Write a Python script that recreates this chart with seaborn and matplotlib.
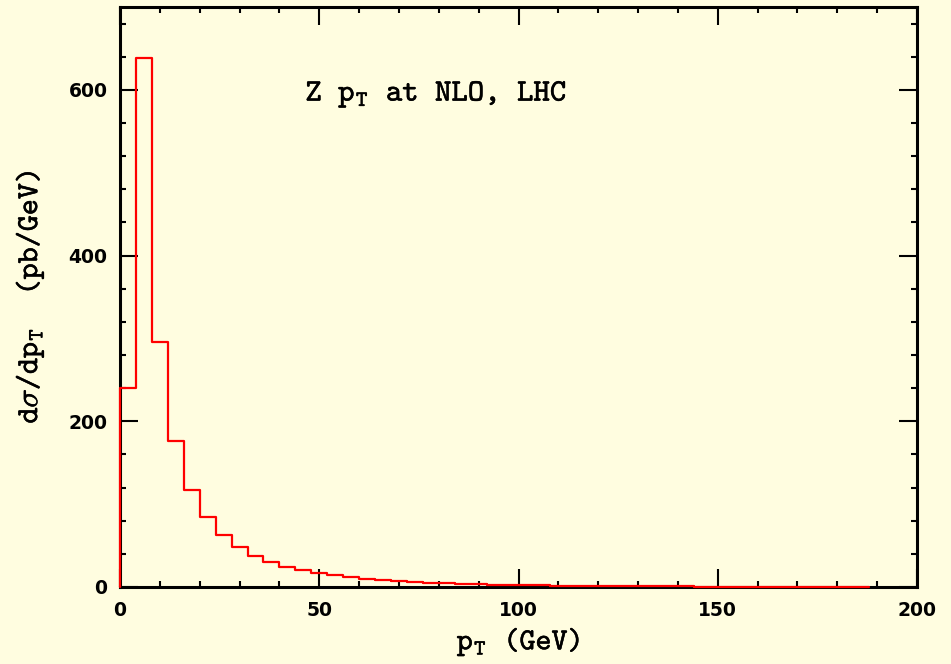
import numpy as np
import pandas as pd
import matplotlib
matplotlib.use("Agg")
import matplotlib.pyplot as plt
import matplotlib.patheffects as pe
import seaborn as sns
from matplotlib.ticker import MultipleLocator

# ---- data ----
bin_width = 4
bin_low = list(range(0, 188, 4))  # lower edges of 4 GeV bins, 0..184
dsigma = [240, 638, 296, 176, 117, 84.5, 63, 48, 38, 30.5,
          24.6, 20.1, 16.9, 14.1, 11.7, 9.7, 8.1, 6.8, 6.0, 5.0,
          4.3, 3.7, 3.2, 2.8, 2.4, 2.1, 1.85, 1.6, 1.4, 1.25,
          1.1, 0.97, 0.86, 0.77, 0.69, 0.62, 0.55, 0.5, 0.45, 0.41,
          0.37, 0.33, 0.3, 0.27, 0.25, 0.23, 0.21]
x_ticks = [0, 50, 100, 150, 200]
y_ticks = [0, 200, 400, 600]
title_text = r"Z p$_\mathrm{T}$ at NLO, LHC"
xlabel_text = r"p$_\mathrm{T}$ (GeV)"
ylabel_text = r"d$\sigma$/dp$_\mathrm{T}$  (pb/GeV)"

# step outline built from the bins
xs = [bin_low[0]] + bin_low + [bin_low[-1] + bin_width, bin_low[-1] + bin_width]
ys = [0] + dsigma + [dsigma[-1], 0]
df = pd.DataFrame({"pt": xs, "val": ys, "order": range(len(xs))})

sns.set_theme(style="ticks")
bg = "#FFFDE0"
plt.rcParams.update({
    "mathtext.fontset": "custom",
    "mathtext.rm": "cmtt10",
    "mathtext.tt": "cmtt10",
    "mathtext.it": "cmtt10",
    "mathtext.bf": "cmtt10",
    "mathtext.fallback": "cm",
    "axes.unicode_minus": False,
})

fig = plt.figure(figsize=(9.51, 6.64), dpi=100, facecolor=bg)
ax = fig.add_axes([120 / 951, 77 / 664, 797 / 951, 580 / 664])
ax.set_facecolor(bg)

sns.lineplot(data=df, x="pt", y="val", estimator=None, sort=False,
             drawstyle="steps-post", color="#FF0000", linewidth=1.6,
             ax=ax, zorder=3, clip_on=False)

ax.set_xlim(0, 200)
ax.set_ylim(0, 700)
ax.set_xticks(x_ticks)
ax.set_yticks(y_ticks)
ax.xaxis.set_minor_locator(MultipleLocator(10))
ax.yaxis.set_minor_locator(MultipleLocator(40))

for s in ax.spines.values():
    s.set_visible(True)
    s.set_linewidth(2.2)
    s.set_color("black")

ax.tick_params(which="both", direction="in", top=True, right=True,
               color="black", width=1.5)
ax.tick_params(which="major", length=13)
ax.tick_params(which="minor", length=4.3)
ax.tick_params(axis="x", which="major", pad=10)
ax.tick_params(axis="y", which="major", pad=9)

for lab in ax.get_xticklabels() + ax.get_yticklabels():
    lab.set_fontfamily("DejaVu Sans")
    lab.set_fontweight("bold")
    lab.set_fontsize(13.5)
    lab.set_color("black")

heavy = [pe.withStroke(linewidth=0.35, foreground="black")]
xl = ax.set_xlabel(xlabel_text, family="cmtt10", fontsize=22, color="black", labelpad=4)
yl = ax.set_ylabel(ylabel_text, family="cmtt10", fontsize=22, color="black", labelpad=16)
xl.set_path_effects(heavy)
yl.set_path_effects(heavy)

t = ax.text(46.5, 594, title_text, family="cmtt10", fontsize=22.5,
            color="black", va="center", ha="left")
t.set_path_effects(heavy)

fig.savefig("out.png", dpi=100, facecolor=bg)
